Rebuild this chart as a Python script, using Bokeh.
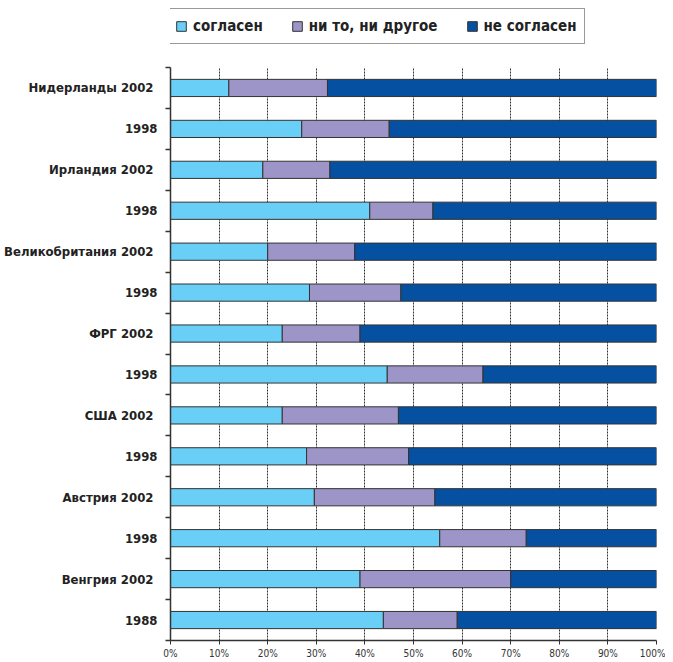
from bokeh.plotting import figure
from bokeh.layouts import column
from bokeh.models import (ColumnDataSource, Range1d, FixedTicker, PrintfTickFormatter,
                          Legend, LegendItem)
from bokeh.embed import file_html
from bokeh.resources import INLINE

# rows, top to bottom
row_labels = ["Нидерланды  2002", "1998", "Ирландия  2002", "1998",
              "Великобритания  2002", "1998", "ФРГ  2002", "1998",
              "США  2002", "1998", "Австрия  2002", "1998",
              "Венгрия  2002", "1988"]
agree    = [12.0, 27.0, 19.0, 41.0, 20.0, 28.6, 23.0, 44.6, 23.0, 28.0, 29.6, 55.4, 39.0, 43.8]
neutral  = [20.3, 18.0, 13.8, 13.0, 17.9, 18.8, 16.0, 19.7, 23.9, 21.0, 24.8, 17.8, 31.0, 15.2]
disagree = [67.7, 55.0, 67.2, 46.0, 62.1, 52.6, 61.0, 35.7, 53.1, 51.0, 45.6, 26.8, 30.0, 41.0]
series_names = ["согласен", "ни то, ни другое", "не согласен"]
series_colors = ["#6ACFF6", "#9D95C8", "#0650A2"]
x_ticks = [0, 10, 20, 30, 40, 50, 60, 70, 80, 90, 100]

n = len(row_labels)
ypos = [n - 1 - i for i in range(n)]
src = ColumnDataSource(dict(y=ypos, agree=agree, neutral=neutral, disagree=disagree))

FONT = "'DejaVu Sans Condensed', Roboto, sans-serif"

W = 665
LEG_H = 50
H = 611
BL, BR, BT, BB = 170, 9, 17, 20

p = figure(width=W, height=H, x_range=Range1d(0, 100), y_range=Range1d(-0.5, n - 0.5),
           output_backend="svg", toolbar_location=None,
           min_border_left=BL, min_border_right=BR, min_border_top=BT, min_border_bottom=BB)
p.outline_line_color = None
p.background_fill_color = "white"

renderers = p.hbar_stack(["agree", "neutral", "disagree"], y="y", height=0.42, source=src,
                         color=series_colors, line_color="#333333", line_width=1)

# axes
p.xaxis.ticker = FixedTicker(ticks=x_ticks)
p.xaxis.formatter = PrintfTickFormatter(format="%d%%")
p.xaxis.major_label_text_font = FONT
p.xaxis.major_label_text_font_size = "10px"
p.xaxis.major_label_text_color = "#333333"
p.xaxis.major_label_standoff = 3
p.xaxis.major_tick_out = 4
p.xaxis.major_tick_in = 0
p.xaxis.minor_tick_out = 0
p.xaxis.axis_line_color = "#333333"
p.xaxis.axis_line_width = 1.5
p.xaxis.major_tick_line_color = "#333333"

p.yaxis.ticker = FixedTicker(ticks=ypos, minor_ticks=[k - 0.5 for k in range(n + 1)])
p.yaxis.major_label_overrides = {float(ypos[i]): row_labels[i] for i in range(n)}
p.yaxis.major_label_text_font = FONT
p.yaxis.major_label_text_font_style = "bold"
p.yaxis.major_label_text_font_size = "13px"
p.yaxis.major_label_text_color = "#222222"
p.yaxis.major_label_standoff = 8
p.yaxis.major_tick_out = 0
p.yaxis.major_tick_in = 0
p.yaxis.minor_tick_out = 5
p.yaxis.minor_tick_in = 0
p.yaxis.minor_tick_line_color = "#333333"
p.yaxis.minor_tick_line_width = 1.5
p.yaxis.axis_line_color = "#333333"
p.yaxis.axis_line_width = 1.5

p.xgrid.grid_line_color = "#333333"
p.xgrid.grid_line_alpha = 1.0
p.xgrid.grid_line_dash = "2 1"
p.xgrid.grid_line_width = 1
p.ygrid.grid_line_color = None

# legend strip above the chart
lg = figure(width=W, height=LEG_H, x_range=Range1d(0, 1), y_range=Range1d(0, 1),
            output_backend="svg", toolbar_location=None,
            min_border_left=BL, min_border_right=BR, min_border_top=0, min_border_bottom=0)
lg.axis.visible = False
lg.grid.visible = False
lg.outline_line_color = None
nan = float("nan")
dummies = [lg.hbar(y=[nan], left=[nan], right=[nan], height=0.5, color=series_colors[i],
                   line_color="#333333") for i in range(3)]
legend = Legend(items=[LegendItem(label=series_names[i], renderers=[dummies[i]]) for i in range(3)],
                orientation="horizontal", location=(-4, 6), margin=0,
                padding=8, spacing=28, label_standoff=6,
                glyph_width=12, glyph_height=12,
                label_text_font=FONT, label_text_font_style="bold",
                label_text_font_size="15px", label_text_color="#222222",
                border_line_color="#333333", border_line_width=1.5,
                background_fill_color="white", background_fill_alpha=1.0)
lg.add_layout(legend)

layout = column(lg, p, spacing=0)
open("out.html", "w").write(file_html(layout, INLINE))
